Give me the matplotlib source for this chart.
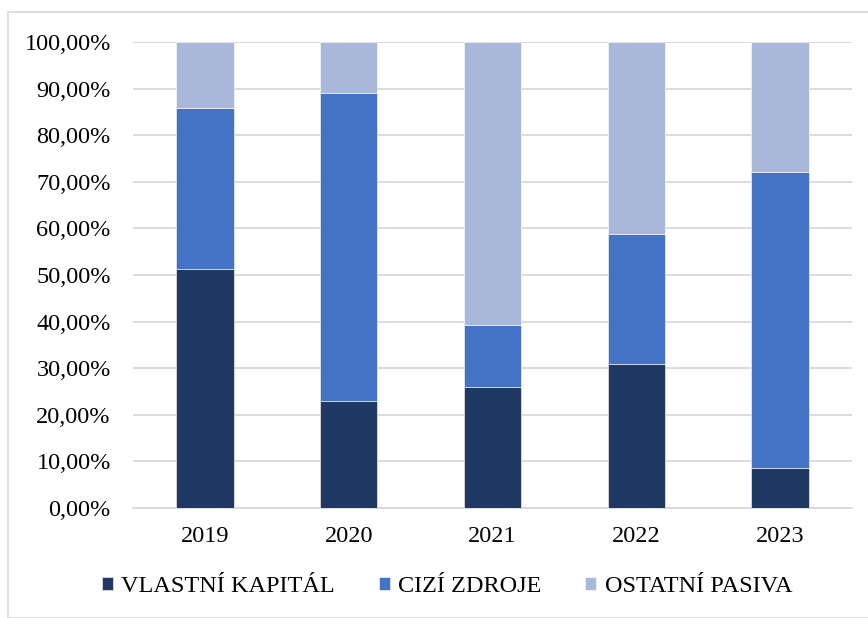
import matplotlib
matplotlib.use("Agg")
import matplotlib.pyplot as plt
from matplotlib.patches import Rectangle
from matplotlib.ticker import FuncFormatter, MultipleLocator

years = ["2019", "2020", "2021", "2022", "2023"]
vlastni = [51.2, 23.0, 25.9, 31.0, 8.5]
cizi = [34.6, 66.1, 13.4, 27.9, 63.7]
ostatni = [14.2, 10.9, 60.7, 41.1, 27.8]
labels = ["VLASTNÍ KAPITÁL", "CIZÍ ZDROJE", "OSTATNÍ PASIVA"]
colors = ["#203864", "#4472C4", "#A9B7DB"]

plt.rcParams['font.family'] = ['Liberation Serif', 'DejaVu Serif']

fig = plt.figure(figsize=(8.68, 6.18), dpi=100)
ax = fig.add_axes([133/868, 1-508/618, (852-133)/868, (508-42)/618])

x = range(len(years))
bottom = [0]*len(years)
for vals, lab, col in zip([vlastni, cizi, ostatni], labels, colors):
    ax.bar(x, vals, width=0.4, bottom=bottom, color=col, label=lab,
           edgecolor='white', linewidth=0.4, zorder=3)
    bottom = [b+v for b, v in zip(bottom, vals)]

ax.set_ylim(0, 100)
ax.set_xlim(-0.5, len(years)-0.5)
ax.yaxis.set_major_locator(MultipleLocator(10))
ax.yaxis.set_major_formatter(FuncFormatter(lambda v, p: f"{v:.2f}%".replace('.', ',')))
ax.set_xticks(list(x))
ax.set_xticklabels(years)
ax.grid(axis='y', color='#D9D9D9', linewidth=1.3, zorder=0)
for s in ['top', 'right', 'left']:
    ax.spines[s].set_visible(False)
ax.spines['bottom'].set_color('#D9D9D9')
ax.spines['bottom'].set_linewidth(1.3)
ax.tick_params(axis='both', length=0, labelsize=17.5, colors='black')
ax.tick_params(axis='y', pad=16)
ax.tick_params(axis='x', pad=13)

fig.legend(loc='center', bbox_to_anchor=(0.515, 1-587/618), ncol=3, frameon=False,
           fontsize=17.5, handlelength=0.45, handleheight=0.45, handletextpad=0.35,
           columnspacing=1.8)

fig.patches.append(Rectangle((8/868, 0), 1, 1-12/618, transform=fig.transFigure,
                             fill=False, edgecolor='#D9D9D9', linewidth=1.2))

fig.savefig("out.png", dpi=100)
